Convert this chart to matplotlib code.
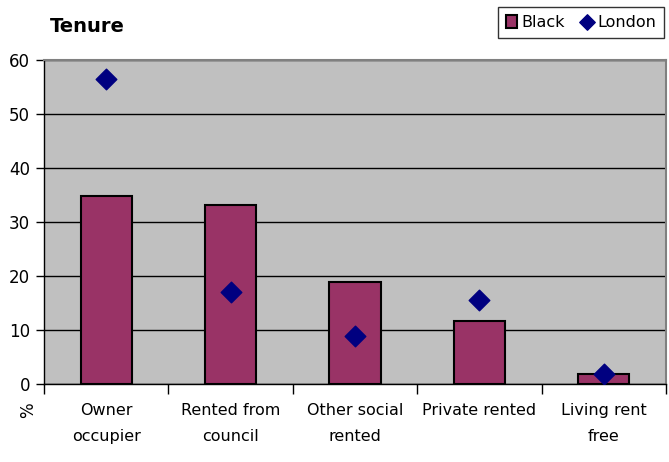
import matplotlib
matplotlib.use("Agg")
import matplotlib.pyplot as plt
import numpy as np

categories = ["Owner\noccupier", "Rented from\ncouncil", "Other social\nrented", "Private rented", "Living rent\nfree"]
black = [34.8, 33.1, 18.9, 11.6, 1.9]
london = [56.5, 17.0, 8.9, 15.6, 1.9]
yticks = [0, 10, 20, 30, 40, 50, 60]

plt.rcParams['font.family'] = ['DejaVu Sans']
fig = plt.figure(figsize=(6.69, 4.62), dpi=100)
ax = fig.add_axes([44/669, 1-384/462, (666-44)/669, (384-60)/462])
ax.set_facecolor('#C0C0C0')
x = np.arange(len(categories))
hb = ax.bar(x, black, width=0.41, color='#993366', edgecolor='black', linewidth=1.5, zorder=3, label='Black')
hl = ax.scatter(x, london, marker='D', s=110, color='#000080', zorder=4, label='London')
ax.set_xlim(-0.5, len(categories)-0.5)
ax.set_ylim(0, 60)
ax.set_yticks(yticks)
ax.set_yticklabels([str(v) for v in yticks], fontsize=12)
ax.yaxis.grid(True, color='black', linewidth=1, zorder=1)
ax.set_axisbelow(True)
ax.set_xticks(np.arange(len(categories)+1)-0.5, minor=False)
ax.set_xticklabels([])
ax.tick_params(axis='x', length=7, width=1, direction='out')
ax.tick_params(axis='y', length=6, width=1, direction='out', pad=4)
for i, c in enumerate(categories):
    ax.text(i, -0.058, c, transform=ax.get_xaxis_transform(), ha='center', va='top', fontsize=11.5, linespacing=1.95)
for s in ['top', 'right']:
    ax.spines[s].set_color('#808080')
    ax.spines[s].set_linewidth(1.5)
for s in ['left', 'bottom']:
    ax.spines[s].set_color('black')
    ax.spines[s].set_linewidth(1)
fig.text(50/669, 1-27/462, "Tenure", fontsize=14, fontweight='bold', va='center', ha='left')
fig.text(28/669, 1-410/462, "%", fontsize=12, rotation=90, va='center', ha='center')
leg = fig.legend(handles=[hb, hl], labels=['Black', 'London'], loc='upper right',
                 bbox_to_anchor=(664/669, 1-7/462), ncol=2, frameon=True, markerscale=0.75,
                 fontsize=11.5, fancybox=False, edgecolor='black', handlelength=0.7, handleheight=0.9,
                 handletextpad=0.3, columnspacing=1.0, borderpad=0.5, borderaxespad=0)
leg.get_frame().set_linewidth(1)
fig.savefig("out.png", dpi=100, facecolor='white')
